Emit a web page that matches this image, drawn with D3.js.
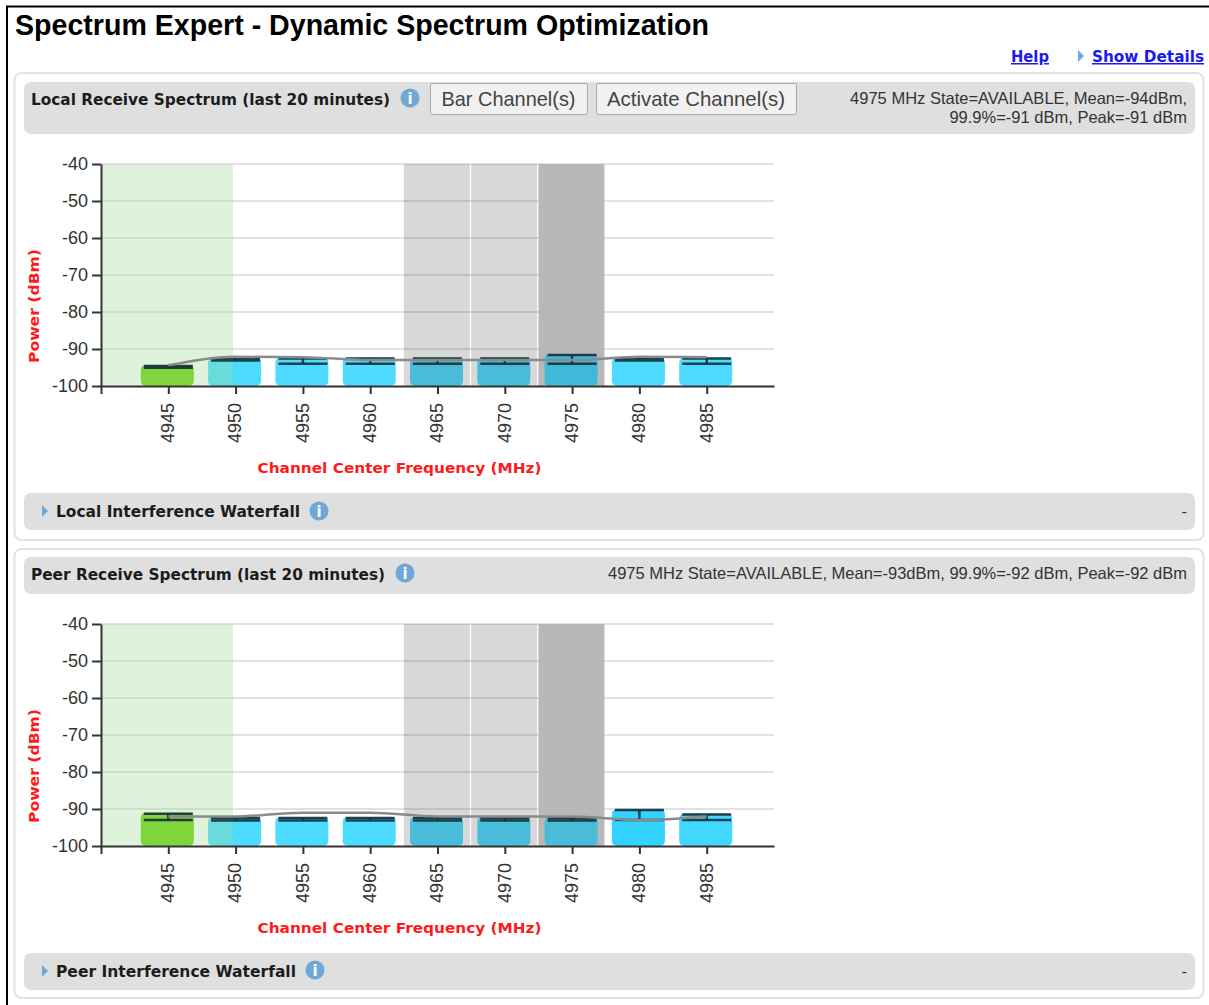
<!DOCTYPE html>
<html>
<head>
<meta charset="utf-8">
<script src="https://cdn.jsdelivr.net/npm/d3@7"></script>
<style>
    html, body { margin: 0; padding: 0; background: #fff; }
    svg { display: block; }
    text { font-family: "Liberation Sans", Arial, sans-serif; fill: #333; }
    .heavy { font-family: "DejaVu Sans", Verdana, sans-serif; font-weight: bold; }
</style>
</head>
<body>
<svg id="page" width="1209" height="1005"></svg>
<script>
const channels = [4945, 4950, 4955, 4960, 4965, 4970, 4975, 4980, 4985];
const yTicks = [-40, -50, -60, -70, -80, -90, -100];
const xDomain = [4940, 4990];
const yDomain = [-100, -40];

const localPeak = [-94.6, -92.6, -92.6, -92.6, -92.6, -92.6, -91.6, -92.6, -92.6];
const localMean = [-95.1, -93.1, -94, -94, -94, -94, -94, -93.1, -94];
const localTrend = [-94.4, -92.1, -92.2, -93, -93, -93, -93, -92.1, -92.2];

const peerPeak = [-91.3, -92.4, -92.4, -92.4, -92.4, -92.4, -92.4, -90.3, -91.5];
const peerMean = [-93, -93.1, -93.1, -93.1, -93.1, -93.1, -93.1, -93, -93];
const peerTrend = [-92, -92, -91, -91, -92, -92, -92, -93, -92];

const activeChannel = 4945;
const activeBand = [4940, 4949.8];
const barredBands = [[4962.5, 4967.4], [4967.5, 4972.4], [4972.5, 4977.4]];
const currentBand = [4972.5, 4977.4];

const svg = d3.select("#page");

const barColor = d3.scaleLinear().domain([-92.5, -90.3]).range(["#4ddcff", "#33d3ff"]).clamp(true);

// page frame
svg.append("path").attr("d", "M7,1005V6.5H1209").attr("fill", "none").attr("stroke", "#000").attr("stroke-width", 2);

svg.append("text")
    .attr("x", 15).attr("y", 35)
    .attr("font-size", 29).attr("font-weight", "bold")
    .style("fill", "#000")
    .attr("textLength", 694).attr("lengthAdjust", "spacingAndGlyphs")
    .text("Spectrum Expert - Dynamic Spectrum Optimization");

function link(x, label, len) {
    return svg.append("text")
        .attr("class", "heavy")
        .attr("x", x).attr("y", 62)
        .attr("font-size", 15)
        .attr("textLength", len).attr("lengthAdjust", "spacingAndGlyphs")
        .style("fill", "#1a1aee")
        .attr("text-decoration", "underline")
        .text(label);
}
link(1011, "Help", 38);
link(1092, "Show Details", 112);
arrow(svg, 1078, 56);

function arrow(g, x, y) {
    g.append("path")
        .attr("d", `M${x},${y - 6}L${x + 6},${y}L${x},${y + 6}Z`)
        .attr("fill", "#6fa8d6");
}

function infoIcon(g, x, y) {
    g.append("circle").attr("cx", x).attr("cy", y).attr("r", 9.5).attr("fill", "#6fa8d6");
    g.append("text")
        .attr("class", "heavy")
        .attr("x", x).attr("y", y + 5.5)
        .attr("text-anchor", "middle")
        .attr("font-size", 15)
        .style("fill", "#fff")
        .text("i");
}

function panel(top, bottom) {
    svg.append("rect")
        .attr("x", 14.5).attr("y", top)
        .attr("width", 1189).attr("height", bottom - top)
        .attr("rx", 7)
        .attr("fill", "#fff").attr("stroke", "#e2e2e2").attr("stroke-width", 2);
}

function headerBar(top, bottom) {
    svg.append("rect")
        .attr("x", 24).attr("y", top)
        .attr("width", 1171).attr("height", bottom - top)
        .attr("rx", 7)
        .attr("fill", "#dfdfdf");
}

function heading(x, y, label, len) {
    svg.append("text")
        .attr("class", "heavy")
        .attr("x", x).attr("y", y)
        .attr("font-size", 15)
        .attr("textLength", len).attr("lengthAdjust", "spacingAndGlyphs")
        .style("fill", "#1c1c1c")
        .text(label);
}

function button(x, w, label, len) {
    svg.append("rect")
        .attr("x", x + 0.5).attr("y", 83.5)
        .attr("width", w).attr("height", 31)
        .attr("rx", 2)
        .attr("fill", "#f1f1f1").attr("stroke", "#a8a8a8");
    svg.append("text")
        .attr("x", x + w / 2).attr("y", 106)
        .attr("text-anchor", "middle")
        .attr("font-size", 21)
        .attr("textLength", len).attr("lengthAdjust", "spacingAndGlyphs")
        .style("fill", "#444")
        .text(label);
}

function status(y, label) {
    svg.append("text")
        .attr("x", 1187).attr("y", y)
        .attr("text-anchor", "end")
        .attr("font-size", 16.5)
        .style("fill", "#333")
        .text(label);
}

function spectrum(top, peak, mean, trend) {
    const x = d3.scaleLinear().domain(xDomain).range([101, 774]);
    const y = d3.scaleLinear().domain(yDomain).range([top + 222, top]);
    const rows = channels.map((c, i) => ({ c, peak: peak[i], mean: mean[i], trend: trend[i] }));
    const barW = 53, capW = 49;
    const g = svg.append("g");

    // gridlines
    g.append("g")
        .selectAll("line")
        .data(yTicks.filter(d => d !== -100))
        .join("line")
        .attr("x1", x(xDomain[0])).attr("x2", x(xDomain[1]))
        .attr("y1", d => y(d)).attr("y2", d => y(d))
        .attr("stroke", "#e2e2e2").attr("stroke-width", 2);

    // darker backdrop for the current channel, sits behind the bars
    g.append("rect")
        .attr("x", x(currentBand[0])).attr("width", x(currentBand[1]) - x(currentBand[0]))
        .attr("y", y(-40)).attr("height", y(-100) - y(-40))
        .attr("fill", "#d7d7d7");

    g.append("g")
        .selectAll("rect")
        .data(rows)
        .join("rect")
        .attr("x", d => x(d.c) - barW / 2 - 1)
        .attr("width", barW)
        .attr("y", d => y(d.peak) - 1)
        .attr("height", d => y(-100) - y(d.peak) + 1)
        .attr("rx", 5)
        .attr("fill", d => d.c === activeChannel ? "#6ed409" : barColor(d.peak));

    // shaded bands overlay the bars
    g.append("rect")
        .attr("x", x(activeBand[0])).attr("width", x(activeBand[1]) - x(activeBand[0]))
        .attr("y", y(-40)).attr("height", y(-100) - y(-40))
        .attr("fill", "rgba(161,217,153,0.34)");
    g.append("g")
        .selectAll("rect")
        .data(barredBands)
        .join("rect")
        .attr("x", d => x(d[0])).attr("width", d => x(d[1]) - x(d[0]))
        .attr("y", y(-40)).attr("height", y(-100) - y(-40))
        .attr("fill", "rgba(60,60,60,0.2)");

    // whiskers
    const whisk = g.append("g").attr("stroke", "#16303a").attr("stroke-opacity", 0.9).attr("stroke-width", 2.5);
    whisk.selectAll(".hi").data(rows).join("line").attr("class", "hi")
        .attr("x1", d => x(d.c) - capW / 2).attr("x2", d => x(d.c) + capW / 2)
        .attr("y1", d => y(d.peak)).attr("y2", d => y(d.peak));
    whisk.selectAll(".lo").data(rows).join("line").attr("class", "lo")
        .attr("x1", d => x(d.c) - capW / 2).attr("x2", d => x(d.c) + capW / 2)
        .attr("y1", d => y(d.mean)).attr("y2", d => y(d.mean));
    whisk.selectAll(".st").data(rows).join("line").attr("class", "st")
        .attr("x1", d => x(d.c)).attr("x2", d => x(d.c))
        .attr("y1", d => y(d.peak)).attr("y2", d => y(d.mean));

    const line = d3.line()
        .x(d => x(d.c))
        .y(d => y(d.trend))
        .curve(d3.curveMonotoneX);
    g.append("path")
        .datum(rows)
        .attr("fill", "none")
        .attr("stroke", "#8a8a8a")
        .attr("stroke-width", 2.5)
        .attr("stroke-linejoin", "round")
        .attr("d", line);

    const xAxis = g.append("g")
        .attr("transform", `translate(0,${y(-100)})`)
        .call(d3.axisBottom(x)
            .tickValues([xDomain[0]].concat(channels))
            .tickFormat(d => d === xDomain[0] ? "" : d)
            .tickSize(8)
            .tickSizeOuter(0));
    xAxis.selectAll("path, line").attr("stroke", "#333").attr("stroke-width", 2);
    xAxis.selectAll("text")
        .attr("font-size", 18)
        .attr("transform", "rotate(-90)")
        .attr("text-anchor", "end")
        .attr("x", -17)
        .attr("y", -1)
        .attr("dy", "0.35em");

    const yAxis = g.append("g")
        .attr("transform", `translate(${x(xDomain[0])},0)`)
        .call(d3.axisLeft(y).tickValues(yTicks).tickFormat(d => String(d)).tickSize(9).tickSizeOuter(0));
    yAxis.selectAll("path, line").attr("stroke", "#333").attr("stroke-width", 2);
    yAxis.selectAll("text").attr("font-size", 18).attr("x", -13);

    g.append("text")
        .attr("class", "heavy")
        .attr("x", 399.5).attr("y", top + 309)
        .attr("text-anchor", "middle")
        .attr("font-size", 14.5)
        .attr("textLength", 284).attr("lengthAdjust", "spacingAndGlyphs")
        .style("fill", "#ff1a1a")
        .text("Channel Center Frequency (MHz)");

    g.append("text")
        .attr("class", "heavy")
        .attr("transform", `translate(39,${top + 142}) rotate(-90)`)
        .attr("text-anchor", "middle")
        .attr("font-size", 14.5)
        .attr("textLength", 114).attr("lengthAdjust", "spacingAndGlyphs")
        .style("fill", "#ff1a1a")
        .text("Power (dBm)");
}

// local panel
panel(73, 540);
headerBar(82, 134);
heading(31, 105, "Local Receive Spectrum (last 20 minutes)", 359);
infoIcon(svg, 410, 98);
button(430, 157, "Bar Channel(s)", 134);
button(596, 200, "Activate Channel(s)", 178);
status(104, "4975 MHz State=AVAILABLE, Mean=-94dBm,");
status(123, "99.9%=-91 dBm, Peak=-91 dBm");
spectrum(164, localPeak, localMean, localTrend);
headerBar(493, 530);
arrow(svg, 42, 511);
heading(56, 517, "Local Interference Waterfall", 244);
infoIcon(svg, 319, 511);
status(517, "-");

// peer panel
panel(549, 998);
headerBar(557, 594);
heading(31, 580, "Peer Receive Spectrum (last 20 minutes)", 354);
infoIcon(svg, 405, 573);
status(579, "4975 MHz State=AVAILABLE, Mean=-93dBm, 99.9%=-92 dBm, Peak=-92 dBm");
spectrum(624, peerPeak, peerMean, peerTrend);
headerBar(953, 990);
arrow(svg, 42, 971);
heading(56, 977, "Peer Interference Waterfall", 240);
infoIcon(svg, 315, 970);
status(977, "-");
</script>
</body>
</html>
